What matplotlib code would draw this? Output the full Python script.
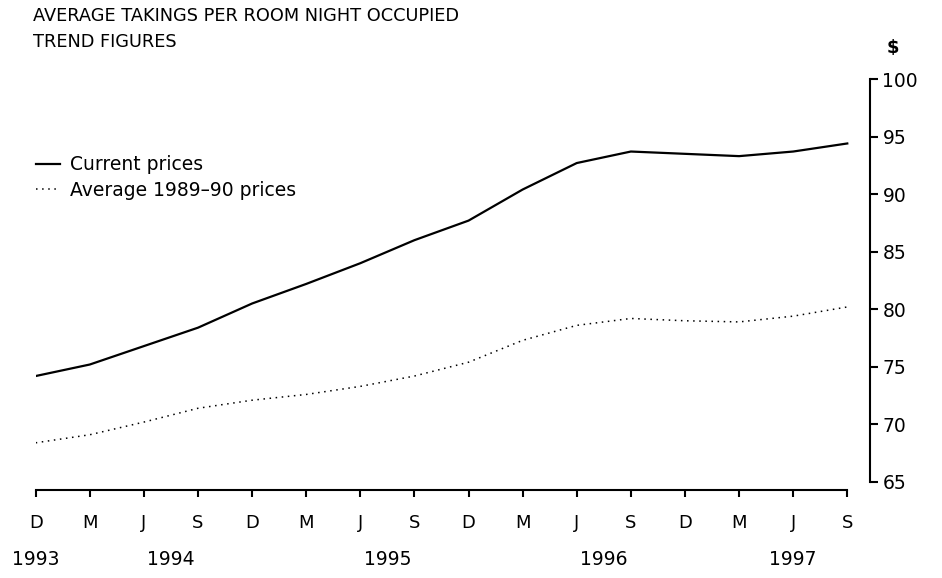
import matplotlib
matplotlib.use("Agg")
import matplotlib.pyplot as plt

# quarters, Dec 1993 .. Sep 1997
quarters = ["D", "M", "J", "S", "D", "M", "J", "S",
            "D", "M", "J", "S", "D", "M", "J", "S"]
years = ["1993", "1994", "1995", "1996", "1997"]
year_pos = [0, 2.5, 6.5, 10.5, 14]

current = [74.2, 75.2, 76.8, 78.4, 80.5, 82.2, 84.0, 86.0,
           87.7, 90.4, 92.7, 93.7, 93.5, 93.3, 93.7, 94.4]
constant = [68.4, 69.1, 70.2, 71.4, 72.1, 72.6, 73.3, 74.2,
            75.4, 77.3, 78.6, 79.2, 79.0, 78.9, 79.4, 80.2]

yticks = [65, 70, 75, 80, 85, 90, 95, 100]

plt.rcParams["font.family"] = "DejaVu Sans"

W, H = 942, 578
fig = plt.figure(figsize=(W / 100, H / 100), dpi=100)
ax = fig.add_axes([35.7 / W, 1 - 490 / H, (870 - 35.7) / W, (490 - 79) / H])

x = list(range(len(quarters)))
ax.plot(x, current, color="black", lw=1.6, solid_joinstyle="round",
        label="Current prices")
ax.plot(x, constant, color="black", lw=1.1, linestyle=(0, (1, 3)),
        label="Average 1989\u201390 prices")

ax.set_xlim(0, 15.42)
ax.set_ylim(64.3, 100)

for s in ["top", "left"]:
    ax.spines[s].set_visible(False)
ax.spines["bottom"].set_bounds(0, 15)
ax.spines["right"].set_bounds(65, 100)
ax.spines["bottom"].set_linewidth(1.5)
ax.spines["right"].set_linewidth(1.5)

ax.yaxis.tick_right()
ax.set_yticks(yticks)
ax.set_yticklabels([str(v) for v in yticks])
ax.tick_params(axis="y", direction="out", length=6, width=1.5, pad=3,
               labelsize=13.5)

ax.set_xticks(x)
ax.set_xticklabels(quarters)
ax.tick_params(axis="x", direction="out", length=5, width=1.5, pad=12.5,
               labelsize=13)

for yr, p in zip(years, year_pos):
    ax.text(p, -0.17, yr, transform=ax.get_xaxis_transform(),
            ha="center", va="center", fontsize=13.5)

fig.text(33 / W, 1 - 16 / H, "AVERAGE TAKINGS PER ROOM NIGHT OCCUPIED",
         ha="left", va="center", fontsize=12.8)
fig.text(33 / W, 1 - 42 / H, "TREND FIGURES",
         ha="left", va="center", fontsize=12.8)
fig.text(893 / W, 1 - 48 / H, "$", ha="center", va="center", fontsize=13,
         fontweight="bold")

ax.legend(loc="center left", bbox_to_anchor=(36 / W, 1 - 177.5 / H),
          bbox_transform=fig.transFigure, frameon=False, fontsize=13.5,
          handlelength=1.3, handletextpad=0.5, labelspacing=0.35,
          borderpad=0, borderaxespad=0)

fig.savefig("out.png", dpi=100)
